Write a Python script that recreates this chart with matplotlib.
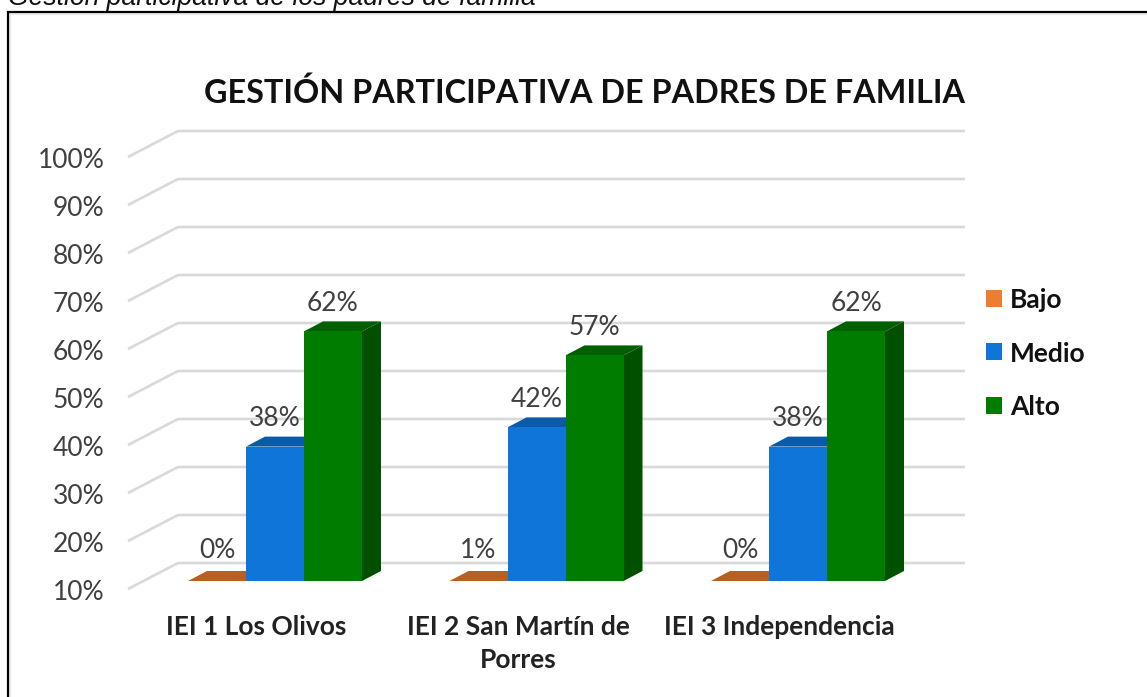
import matplotlib
matplotlib.use("Agg")
import matplotlib.pyplot as plt
from matplotlib.patches import Rectangle

categorias = ["IEI 1 Los Olivos", "IEI 2 San Martín de\nPorres", "IEI 3 Independencia"]
series = ["Bajo", "Medio", "Alto"]
bajo = [0, 1, 0]
medio = [38, 42, 38]
alto = [62, 57, 62]
ticks = [10, 20, 30, 40, 50, 60, 70, 80, 90, 100]

frente = ["#ed7d31", "#0f75d8", "#007d00"]
arriba = ["#b85f22", "#0a5aa8", "#006000"]
lado = ["#a04f18", "#084a8c", "#005000"]

W, H = 1147, 697
fig = plt.figure(figsize=(W / 100, H / 100), dpi=100)
ax = fig.add_axes([0, 0, 1, 1])

# escala: 261.5 px por categoria, 4.8 px por punto porcentual
px_x = 261.5
px_y = 4.8
ax.set_xlim(-275 / px_x, (W - 275) / px_x)
ax.set_ylim(10 - (H - 581) / px_y, 10 + 581 / px_y)
ax.axis("off")

ancho = 58 / px_x
dx = 19 / px_x
dy = 10 / px_y
fuente = "Lato"
oscuro = "#404040"

# lineas de la pared y del piso
fx = 50 / px_x
fy = 26 / px_y
x_atras = (178 - 275) / px_x
x_fin = (965 - 275) / px_x
for t in ticks:
    yb = t + 18 / px_y
    ax.plot([x_atras - fx, x_atras, x_fin], [yb - fy, yb, yb], color="#d9d9d9", lw=1.9, zorder=1,
            solid_joinstyle="miter", solid_capstyle="butt")
    ax.text(-275 / px_x + 104.5 / px_x, yb - fy - 3 / px_y, "{}%".format(t), ha="right", va="center",
            fontsize=19, family=fuente, color=oscuro)

valores = [bajo, medio, alto]
for i, vals in enumerate(valores):
    for c, v in enumerate(vals):
        x0 = c + (i - 1.5) * ancho
        tope = max(v, 10)
        base = 10
        ax.fill([x0 + ancho, x0 + ancho + dx, x0 + ancho + dx, x0 + ancho],
                [base, base + dy, tope + dy, tope], color=lado[i], lw=0, zorder=2 + i)
        ax.fill([x0, x0 + dx, x0 + ancho + dx, x0 + ancho],
                [tope, tope + dy, tope + dy, tope], color=arriba[i], lw=0, zorder=2 + i)
        ax.bar(x0, tope - base, ancho, bottom=base, align="edge", color=frente[i], lw=0, zorder=2 + i)
        # las barras de Bajo no llegan al piso, su etiqueta queda un poco mas alta
        sube = 31 if v < 10 else 28
        ax.text(x0 + ancho / 2, tope + sube / px_y, "{}%".format(v), ha="center", va="center",
                fontsize=19, family=fuente, color=oscuro, zorder=8)

for c, nombre in enumerate(categorias):
    ax.text(c - 18.5 / px_x, 10 - 34 / px_y, nombre, ha="center", va="top", fontsize=19,
            family=fuente, weight="bold", color="#222222", linespacing=1.45)

# leyenda
tx = ax.transAxes
for i, nombre in enumerate(series):
    yl = [298.5, 352, 406][i]
    ax.add_patch(Rectangle((986 / W, 1 - (yl + 8) / H), 16 / W, 17 / H, transform=tx,
                           color=frente[i], lw=0))
    ax.text(1010 / W, 1 - (yl + 1.5) / H, nombre, transform=tx, va="center", fontsize=19,
            family=fuente, weight="bold", color="#111111")

ax.text(584 / W, 1 - 93 / H, "GESTIÓN PARTICIPATIVA DE PADRES DE FAMILIA", transform=tx,
        ha="center", va="center", fontsize=23.3, family=fuente, weight="bold", color="#111111")

# caption cortado y marco con sombra
ax.text(8 / W, 1 - 5 / H, "Gestión participativa de los padres de familia", transform=tx, va="baseline",
        fontsize=19.1, style="italic", family="Liberation Sans", color="#111111", clip_on=False)
ax.plot([10.3 / W, 10.3 / W, 1], [0, 1 - 14.3 / H, 1 - 14.3 / H], transform=tx, color="#ececec", lw=1.6)
ax.plot([8.3 / W, 8.3 / W, 1], [0, 1 - 12.2 / H, 1 - 12.2 / H], transform=tx, color="black", lw=1.6,
        solid_joinstyle="miter")
fig.savefig("out.png", dpi=100)
